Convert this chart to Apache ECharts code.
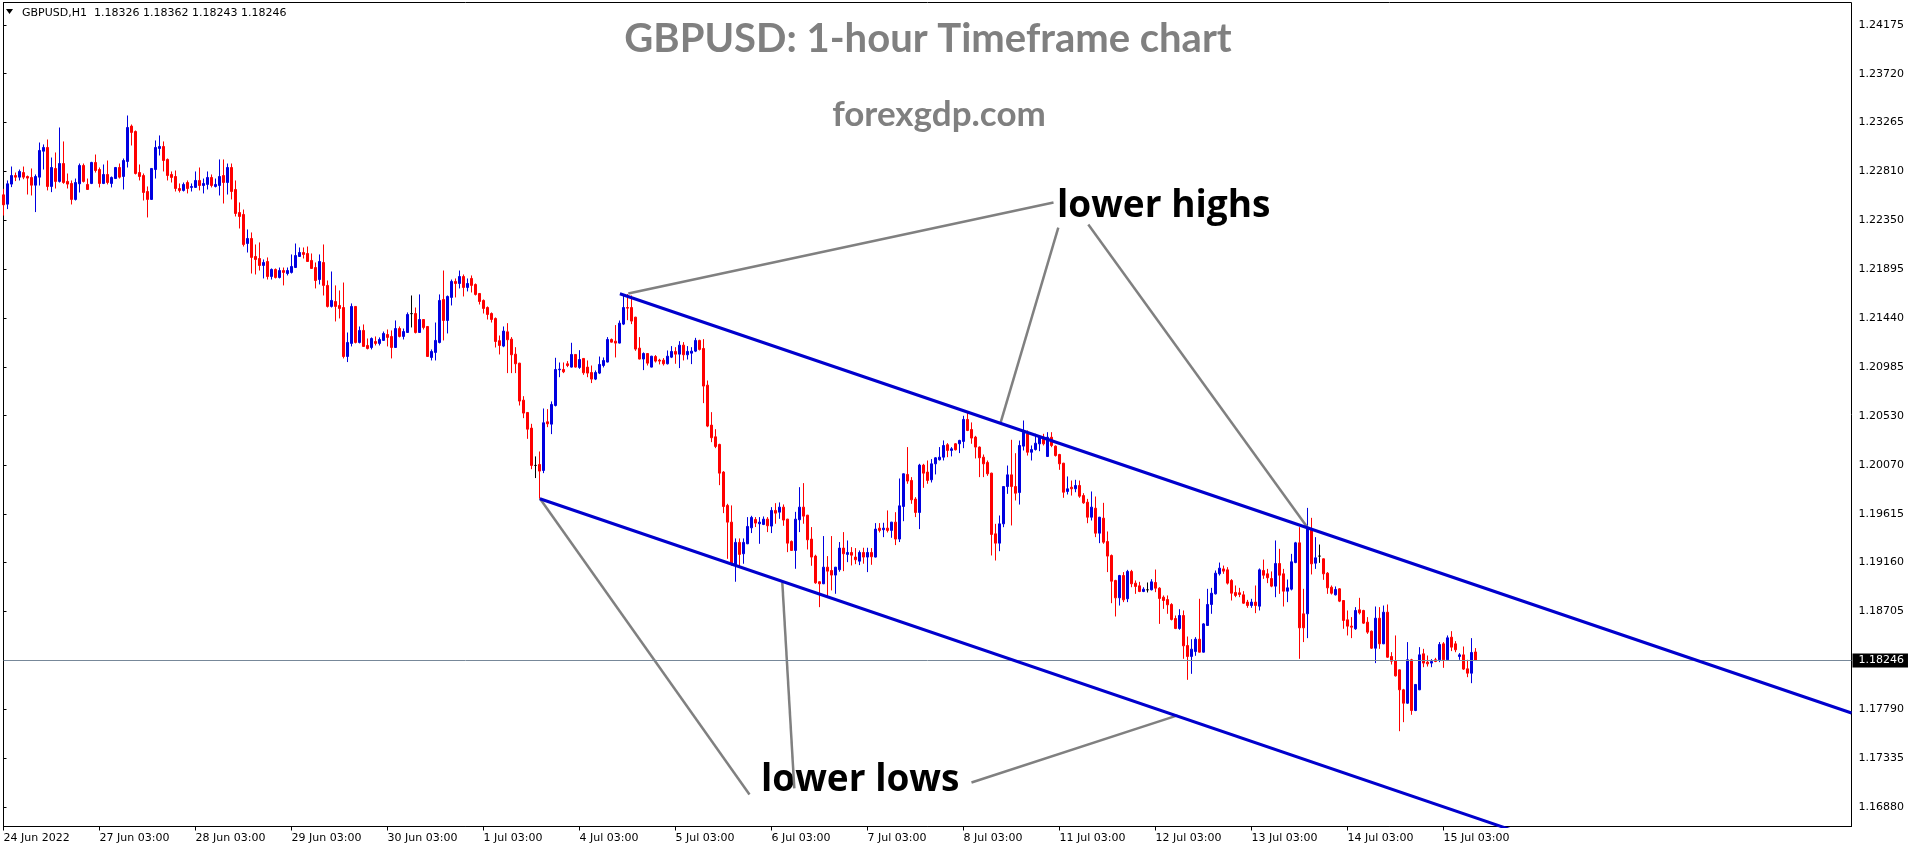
<!DOCTYPE html>
<html>
<head>
<meta charset="utf-8">
<title>GBPUSD H1</title>
<script src="https://cdn.jsdelivr.net/npm/echarts@6/dist/echarts.min.js"></script>
<style>
  html, body { margin: 0; padding: 0; background: #fff; }
  #chart { width: 1916px; height: 850px; }
</style>
</head>
<body>
<div id="chart"></div>
<script>
// day labels, one every 24 hourly bars
const dayLabels = ['24 Jun 2022', '27 Jun 03:00', '28 Jun 03:00', '29 Jun 03:00', '30 Jun 03:00',
  '1 Jul 03:00', '4 Jul 03:00', '5 Jul 03:00', '6 Jul 03:00', '7 Jul 03:00', '8 Jul 03:00',
  '11 Jul 03:00', '12 Jul 03:00', '13 Jul 03:00', '14 Jul 03:00', '15 Jul 03:00'];

// price axis labels as printed by the terminal
const priceTicks = [1.24175, 1.23720, 1.23265, 1.22810, 1.22350, 1.21895, 1.21440, 1.20985,
  1.20530, 1.20070, 1.19615, 1.19160, 1.18705, 1.17790, 1.17335, 1.16880];

const lastPrice = 1.18246;
const headerText = 'GBPUSD,H1  1.18326 1.18362 1.18243 1.18246';

// hourly OHLC
const open = [
  1.22590, 1.22503, 1.22690, 1.22770, 1.22755, 1.22798, 1.22761, 1.22752, 1.22680, 1.22755,
  1.22997, 1.23032, 1.22668, 1.22836, 1.22715, 1.22882, 1.22715, 1.22696, 1.22547, 1.22693,
  1.22864, 1.22687, 1.22696, 1.22892, 1.22826, 1.22696, 1.22780, 1.22696, 1.22742, 1.22845,
  1.22761, 1.22901, 1.23231, 1.23181, 1.22798, 1.22770, 1.22621, 1.22547, 1.22826, 1.23022,
  1.23041, 1.22920, 1.22780, 1.22761, 1.22649, 1.22631, 1.22705, 1.22659, 1.22659, 1.22724,
  1.22677, 1.22687, 1.22752, 1.22668, 1.22677, 1.22770, 1.22705, 1.22845, 1.22640, 1.22425,
  1.22407, 1.22136, 1.22183, 1.22015, 1.21996, 1.21931, 1.21968, 1.21828, 1.21894, 1.21819,
  1.21884, 1.21856, 1.21866, 1.21912, 1.22015, 1.22052, 1.22043, 1.21978, 1.21912, 1.21800,
  1.21959, 1.21745, 1.21549, 1.21595, 1.21558, 1.21539, 1.21082, 1.21204, 1.21549, 1.21213,
  1.21325, 1.21185, 1.21166, 1.21222, 1.21204, 1.21232, 1.21287, 1.21269, 1.21166, 1.21343,
  1.21269, 1.21306, 1.21482, 1.21483, 1.21306, 1.21427, 1.21362, 1.21073, 1.21120, 1.21213,
  1.21614, 1.21418, 1.21633, 1.21782, 1.21763, 1.21828, 1.21726, 1.21810, 1.21754, 1.21670,
  1.21605, 1.21539, 1.21483, 1.21437, 1.21230, 1.21179, 1.21312, 1.21244, 1.21104, 1.21020,
  1.20675, 1.20560, 1.20414, 1.20066, 1.20075, 1.20019, 1.20473, 1.20451, 1.20625, 1.20958,
  1.20961, 1.21014, 1.20983, 1.21101, 1.20980, 1.21064, 1.20983, 1.20933, 1.20871, 1.20927,
  1.20998, 1.21030, 1.21241, 1.21225, 1.21207, 1.21384, 1.21539, 1.21539, 1.21449, 1.21160,
  1.21058, 1.21110, 1.20983, 1.21082, 1.21048, 1.21048, 1.21014, 1.21076, 1.21129, 1.21104,
  1.21188, 1.21098, 1.21113, 1.21132, 1.21232, 1.21157, 1.20815, 1.20442, 1.20333, 1.20262,
  1.20004, 1.19693, 1.19537, 1.19139, 1.19348, 1.19242, 1.19335, 1.19484, 1.19562, 1.19522,
  1.19515, 1.19565, 1.19500, 1.19646, 1.19630, 1.19677, 1.19565, 1.19357, 1.19273, 1.19559,
  1.19677, 1.19602, 1.19379, 1.19220, 1.18981, 1.18962, 1.19117, 1.19086, 1.19043, 1.19093,
  1.19295, 1.19236, 1.19254, 1.19211, 1.19173, 1.19254, 1.19211, 1.19254, 1.19211, 1.19481,
  1.19466, 1.19481, 1.19460, 1.19537, 1.19379, 1.19683, 1.19982, 1.19926, 1.19752, 1.19627,
  1.20069, 1.20004, 1.19932, 1.20081, 1.20119, 1.20143, 1.20259, 1.20206, 1.20268, 1.20268,
  1.20290, 1.20495, 1.20401, 1.20330, 1.20237, 1.20143, 1.20094, 1.19994, 1.19428, 1.19341,
  1.19521, 1.19869, 1.19978, 1.19869, 1.19813, 1.20246, 1.20361, 1.20189, 1.20214, 1.20267,
  1.20329, 1.20149, 1.20329, 1.20246, 1.20168, 1.20087, 1.19823, 1.19863, 1.19848, 1.19879,
  1.19785, 1.19723, 1.19583, 1.19667, 1.19434, 1.19574, 1.19356, 1.19226, 1.18993, 1.18831,
  1.19039, 1.18822, 1.19077, 1.18968, 1.18943, 1.18890, 1.18906, 1.18906, 1.18974, 1.18921,
  1.18837, 1.18815, 1.18769, 1.18638, 1.18545, 1.18666, 1.18386, 1.18284, 1.18330, 1.18445,
  1.18324, 1.18573, 1.18769, 1.18868, 1.19055, 1.19101, 1.19092, 1.18993, 1.18881, 1.18878,
  1.18859, 1.18791, 1.18759, 1.18791, 1.18753, 1.19086, 1.19055, 1.19011, 1.18940, 1.19151,
  1.19055, 1.18893, 1.18912, 1.19160, 1.19344, 1.18682, 1.18682, 1.19475, 1.19154, 1.19220,
  1.19195, 1.19061, 1.18930, 1.18859, 1.18915, 1.18806, 1.18626, 1.18567, 1.18542, 1.18719,
  1.18713, 1.18604, 1.18520, 1.18361, 1.18641, 1.18402, 1.18697, 1.18284, 1.18246, 1.18159,
  1.17973, 1.17848, 1.18253, 1.17780, 1.17973, 1.18309, 1.18231, 1.18222, 1.18253, 1.18253,
  1.18402, 1.18253, 1.18464, 1.18402, 1.18284, 1.18299, 1.18169, 1.18128, 1.18326
];
const high = [
  1.22646, 1.22724, 1.22854, 1.22798, 1.22826, 1.22854, 1.22770, 1.22836, 1.22780, 1.23078,
  1.23060, 1.23106, 1.22938, 1.22985, 1.23218, 1.23088, 1.22789, 1.22724, 1.22742, 1.22882,
  1.22882, 1.22742, 1.22898, 1.22966, 1.22845, 1.22873, 1.22910, 1.22761, 1.22850, 1.22882,
  1.22929, 1.23330, 1.23246, 1.23190, 1.22873, 1.22789, 1.22668, 1.22840, 1.23097, 1.23144,
  1.23088, 1.22929, 1.22808, 1.22817, 1.22696, 1.22705, 1.22724, 1.22696, 1.22808, 1.22845,
  1.22742, 1.22808, 1.22780, 1.22742, 1.22920, 1.22920, 1.22882, 1.22882, 1.22724, 1.22519,
  1.22453, 1.22267, 1.22239, 1.22127, 1.22146, 1.21987, 1.22006, 1.21903, 1.21903, 1.21912,
  1.21912, 1.21912, 1.22034, 1.22136, 1.22099, 1.22099, 1.22108, 1.22043, 1.21959, 1.22034,
  1.22127, 1.21791, 1.21875, 1.21745, 1.21698, 1.21772, 1.21306, 1.21577, 1.21553, 1.21362,
  1.21381, 1.21250, 1.21260, 1.21269, 1.21260, 1.21315, 1.21334, 1.21325, 1.21418, 1.21362,
  1.21343, 1.21493, 1.21651, 1.21539, 1.21661, 1.21431, 1.21366, 1.21148, 1.21399, 1.21661,
  1.21884, 1.21651, 1.21800, 1.21810, 1.21884, 1.21847, 1.21810, 1.21838, 1.21763, 1.21674,
  1.21614, 1.21549, 1.21493, 1.21446, 1.21278, 1.21362, 1.21393, 1.21263, 1.21169, 1.21023,
  1.20712, 1.20563, 1.20454, 1.20150, 1.20196, 1.20597, 1.20591, 1.20663, 1.21070, 1.21026,
  1.21026, 1.21039, 1.21210, 1.21104, 1.21141, 1.21067, 1.21045, 1.20998, 1.20952, 1.21082,
  1.21073, 1.21263, 1.21250, 1.21375, 1.21418, 1.21664, 1.21664, 1.21651, 1.21452, 1.21263,
  1.21120, 1.21113, 1.21088, 1.21095, 1.21061, 1.21067, 1.21138, 1.21179, 1.21169, 1.21225,
  1.21216, 1.21179, 1.21169, 1.21256, 1.21238, 1.21244, 1.20858, 1.20563, 1.20404, 1.20268,
  1.20013, 1.19708, 1.19693, 1.19385, 1.19385, 1.19385, 1.19584, 1.19596, 1.19584, 1.19584,
  1.19590, 1.19584, 1.19677, 1.19714, 1.19721, 1.19702, 1.19568, 1.19366, 1.19633, 1.19863,
  1.19901, 1.19605, 1.19491, 1.19233, 1.18984, 1.19407, 1.19220, 1.19407, 1.19119, 1.19351,
  1.19444, 1.19366, 1.19304, 1.19295, 1.19273, 1.19298, 1.19298, 1.19295, 1.19528, 1.19528,
  1.19531, 1.19646, 1.19540, 1.19630, 1.19944, 1.19991, 1.20237, 1.19957, 1.19770, 1.20081,
  1.20081, 1.20112, 1.20125, 1.20143, 1.20237, 1.20299, 1.20274, 1.20237, 1.20274, 1.20305,
  1.20529, 1.20557, 1.20467, 1.20342, 1.20243, 1.20168, 1.20112, 1.19998, 1.19521, 1.19599,
  1.19872, 1.20065, 1.20305, 1.20180, 1.20298, 1.20485, 1.20392, 1.20252, 1.20361, 1.20345,
  1.20361, 1.20376, 1.20376, 1.20252, 1.20174, 1.20090, 1.19963, 1.19925, 1.19932, 1.19925,
  1.19807, 1.19754, 1.19823, 1.19776, 1.19586, 1.19717, 1.19450, 1.19235, 1.18999, 1.19045,
  1.19071, 1.19092, 1.19092, 1.18993, 1.18980, 1.18930, 1.18974, 1.19005, 1.19095, 1.18930,
  1.18853, 1.18853, 1.18781, 1.18666, 1.18725, 1.18713, 1.18470, 1.18445, 1.18464, 1.18822,
  1.18595, 1.18915, 1.18924, 1.19086, 1.19160, 1.19132, 1.19117, 1.19005, 1.18946, 1.18924,
  1.18893, 1.18812, 1.18822, 1.18946, 1.19105, 1.19188, 1.19101, 1.19077, 1.19366, 1.19288,
  1.19101, 1.19002, 1.19241, 1.19353, 1.19490, 1.18915, 1.19670, 1.19577, 1.19397, 1.19328,
  1.19198, 1.19071, 1.18946, 1.18937, 1.18921, 1.18809, 1.18713, 1.18651, 1.18744, 1.18831,
  1.18719, 1.18651, 1.18526, 1.18750, 1.18744, 1.18759, 1.18769, 1.18324, 1.18480, 1.18162,
  1.17982, 1.18418, 1.18262, 1.18026, 1.18371, 1.18355, 1.18293, 1.18259, 1.18271, 1.18418,
  1.18418, 1.18480, 1.18520, 1.18427, 1.18315, 1.18377, 1.18253, 1.18455, 1.18362
];
const low = [
  1.22397, 1.22457, 1.22662, 1.22718, 1.22724, 1.22736, 1.22593, 1.22584, 1.22429, 1.22677,
  1.22826, 1.22631, 1.22615, 1.22649, 1.22705, 1.22693, 1.22649, 1.22500, 1.22537, 1.22612,
  1.22705, 1.22635, 1.22690, 1.22798, 1.22659, 1.22690, 1.22687, 1.22659, 1.22738, 1.22742,
  1.22640, 1.22845, 1.23050, 1.22780, 1.22724, 1.22537, 1.22379, 1.22542, 1.22742, 1.22957,
  1.22808, 1.22724, 1.22705, 1.22621, 1.22612, 1.22621, 1.22603, 1.22621, 1.22655, 1.22631,
  1.22603, 1.22640, 1.22659, 1.22659, 1.22584, 1.22509, 1.22593, 1.22547, 1.22388, 1.22276,
  1.22108, 1.22052, 1.21856, 1.21847, 1.21884, 1.21810, 1.21800, 1.21800, 1.21810, 1.21810,
  1.21745, 1.21838, 1.21856, 1.21908, 1.22010, 1.21996, 1.21965, 1.21900, 1.21717, 1.21754,
  1.21651, 1.21539, 1.21539, 1.21409, 1.21437, 1.21064, 1.21030, 1.21176, 1.21204, 1.21204,
  1.21172, 1.21148, 1.21148, 1.21185, 1.21185, 1.21228, 1.21176, 1.21064, 1.21162, 1.21260,
  1.21241, 1.21302, 1.21353, 1.21297, 1.21302, 1.21334, 1.21078, 1.21045, 1.21045, 1.21204,
  1.21232, 1.21297, 1.21558, 1.21633, 1.21717, 1.21642, 1.21689, 1.21679, 1.21651, 1.21567,
  1.21483, 1.21427, 1.21399, 1.21166, 1.21101, 1.21169, 1.20927, 1.20927, 1.20927, 1.20625,
  1.20507, 1.20314, 1.20031, 1.19948, 1.19755, 1.19994, 1.20423, 1.20358, 1.20616, 1.20889,
  1.20927, 1.20983, 1.20979, 1.20979, 1.20967, 1.20911, 1.20889, 1.20834, 1.20862, 1.20918,
  1.20980, 1.21027, 1.21213, 1.21073, 1.21204, 1.21375, 1.21421, 1.21384, 1.21135, 1.21055,
  1.20955, 1.20998, 1.20980, 1.21026, 1.21008, 1.20998, 1.21008, 1.21067, 1.21014, 1.20974,
  1.21045, 1.21054, 1.21011, 1.21123, 1.21138, 1.20647, 1.20423, 1.20283, 1.20227, 1.19882,
  1.19621, 1.19195, 1.19130, 1.18981, 1.19111, 1.19149, 1.19332, 1.19435, 1.19491, 1.19335,
  1.19509, 1.19444, 1.19435, 1.19522, 1.19568, 1.19503, 1.19257, 1.19270, 1.19102, 1.19444,
  1.19522, 1.19282, 1.19130, 1.18962, 1.18744, 1.18959, 1.18837, 1.18900, 1.18869, 1.19074,
  1.19080, 1.19164, 1.19133, 1.19145, 1.19136, 1.19149, 1.19071, 1.19139, 1.19208, 1.19441,
  1.19397, 1.19441, 1.19391, 1.19323, 1.19351, 1.19546, 1.19895, 1.19708, 1.19584, 1.19472,
  1.19857, 1.19895, 1.19907, 1.19982, 1.20112, 1.20112, 1.20143, 1.20150, 1.20206, 1.20181,
  1.20227, 1.20386, 1.20268, 1.20131, 1.19957, 1.19957, 1.19969, 1.19226, 1.19179, 1.19266,
  1.19490, 1.19801, 1.19506, 1.19739, 1.19701, 1.20205, 1.20158, 1.20112, 1.20205, 1.20199,
  1.20252, 1.20146, 1.20236, 1.20149, 1.20025, 1.19764, 1.19795, 1.19785, 1.19816, 1.19764,
  1.19708, 1.19527, 1.19552, 1.19397, 1.19341, 1.19335, 1.19071, 1.18781, 1.18657, 1.18759,
  1.18791, 1.18791, 1.18930, 1.18868, 1.18884, 1.18884, 1.18881, 1.18900, 1.18884, 1.18588,
  1.18728, 1.18682, 1.18620, 1.18539, 1.18533, 1.18262, 1.18066, 1.18122, 1.18290, 1.18321,
  1.18321, 1.18570, 1.18682, 1.18862, 1.19039, 1.19055, 1.18955, 1.18806, 1.18837, 1.18837,
  1.18775, 1.18738, 1.18738, 1.18688, 1.18713, 1.19008, 1.18968, 1.18930, 1.18837, 1.18868,
  1.18750, 1.18791, 1.18900, 1.19154, 1.18262, 1.18418, 1.18455, 1.19049, 1.19101, 1.19157,
  1.18999, 1.18868, 1.18862, 1.18853, 1.18791, 1.18542, 1.18480, 1.18455, 1.18533, 1.18676,
  1.18588, 1.18495, 1.18355, 1.18222, 1.18355, 1.18399, 1.18271, 1.18209, 1.18097, 1.17587,
  1.17671, 1.17842, 1.17740, 1.17774, 1.17970, 1.18184, 1.18190, 1.18184, 1.18231, 1.18231,
  1.18178, 1.18250, 1.18334, 1.18324, 1.18253, 1.18159, 1.18091, 1.18035, 1.18243
];
const close = [
  1.22497, 1.22693, 1.22770, 1.22755, 1.22808, 1.22755, 1.22746, 1.22680, 1.22761, 1.23004,
  1.23032, 1.22668, 1.22845, 1.22715, 1.22882, 1.22705, 1.22690, 1.22547, 1.22705, 1.22864,
  1.22715, 1.22640, 1.22892, 1.22817, 1.22696, 1.22780, 1.22705, 1.22752, 1.22845, 1.22755,
  1.22910, 1.23218, 1.23172, 1.22789, 1.22761, 1.22612, 1.22547, 1.22836, 1.23032, 1.23041,
  1.22910, 1.22770, 1.22752, 1.22649, 1.22631, 1.22687, 1.22649, 1.22668, 1.22724, 1.22677,
  1.22696, 1.22752, 1.22677, 1.22687, 1.22761, 1.22705, 1.22845, 1.22621, 1.22416, 1.22388,
  1.22127, 1.22183, 1.22006, 1.21987, 1.21931, 1.21959, 1.21828, 1.21894, 1.21819, 1.21884,
  1.21866, 1.21884, 1.21922, 1.22024, 1.22052, 1.22034, 1.21968, 1.21903, 1.21791, 1.21968,
  1.21745, 1.21549, 1.21605, 1.21549, 1.21530, 1.21082, 1.21213, 1.21549, 1.21213, 1.21325,
  1.21176, 1.21157, 1.21250, 1.21204, 1.21241, 1.21297, 1.21260, 1.21166, 1.21343, 1.21269,
  1.21315, 1.21474, 1.21482, 1.21306, 1.21427, 1.21353, 1.21082, 1.21129, 1.21232, 1.21605,
  1.21418, 1.21642, 1.21782, 1.21763, 1.21828, 1.21726, 1.21763, 1.21745, 1.21661, 1.21595,
  1.21530, 1.21474, 1.21427, 1.21222, 1.21185, 1.21319, 1.21238, 1.21098, 1.21014, 1.20666,
  1.20554, 1.20404, 1.20066, 1.20066, 1.20013, 1.20464, 1.20454, 1.20635, 1.20961, 1.20964,
  1.20939, 1.20998, 1.21101, 1.20983, 1.21054, 1.20930, 1.20927, 1.20871, 1.20933, 1.21008,
  1.21045, 1.21241, 1.21216, 1.21207, 1.21393, 1.21539, 1.21533, 1.21412, 1.21151, 1.21058,
  1.21110, 1.21020, 1.21085, 1.21039, 1.21039, 1.21014, 1.21085, 1.21129, 1.21104, 1.21188,
  1.21098, 1.21129, 1.21132, 1.21232, 1.21148, 1.20806, 1.20433, 1.20324, 1.20243, 1.19994,
  1.19683, 1.19537, 1.19149, 1.19348, 1.19236, 1.19348, 1.19497, 1.19581, 1.19528, 1.19537,
  1.19565, 1.19503, 1.19646, 1.19621, 1.19677, 1.19556, 1.19341, 1.19273, 1.19565, 1.19677,
  1.19593, 1.19372, 1.19211, 1.18971, 1.18962, 1.19117, 1.19080, 1.19043, 1.19117, 1.19295,
  1.19242, 1.19254, 1.19229, 1.19186, 1.19254, 1.19211, 1.19254, 1.19214, 1.19472, 1.19460,
  1.19481, 1.19460, 1.19537, 1.19379, 1.19689, 1.19988, 1.19920, 1.19745, 1.19627, 1.20069,
  1.19994, 1.19926, 1.20081, 1.20137, 1.20143, 1.20252, 1.20206, 1.20221, 1.20212, 1.20299,
  1.20495, 1.20392, 1.20321, 1.20237, 1.20137, 1.20081, 1.19988, 1.19422, 1.19341, 1.19521,
  1.19869, 1.19978, 1.19869, 1.19807, 1.20252, 1.20376, 1.20189, 1.20214, 1.20273, 1.20329,
  1.20267, 1.20329, 1.20252, 1.20158, 1.20081, 1.19816, 1.19848, 1.19848, 1.19879, 1.19779,
  1.19717, 1.19583, 1.19677, 1.19434, 1.19583, 1.19350, 1.19220, 1.18986, 1.18831, 1.19039,
  1.18812, 1.19077, 1.18962, 1.18937, 1.18890, 1.18912, 1.18906, 1.18980, 1.18921, 1.18825,
  1.18806, 1.18766, 1.18629, 1.18545, 1.18666, 1.18383, 1.18284, 1.18352, 1.18445, 1.18324,
  1.18588, 1.18769, 1.18874, 1.19061, 1.19108, 1.19080, 1.18968, 1.18874, 1.18853, 1.18862,
  1.18781, 1.18759, 1.18791, 1.18759, 1.19092, 1.19042, 1.19018, 1.18940, 1.19151, 1.19042,
  1.18893, 1.18924, 1.19167, 1.19344, 1.18551, 1.18551, 1.19475, 1.19148, 1.19204, 1.19220,
  1.19055, 1.18924, 1.18874, 1.18909, 1.18800, 1.18620, 1.18567, 1.18557, 1.18713, 1.18691,
  1.18595, 1.18511, 1.18361, 1.18641, 1.18402, 1.18697, 1.18277, 1.18240, 1.18103, 1.17973,
  1.17848, 1.18253, 1.17780, 1.18023, 1.18299, 1.18222, 1.18215, 1.18237, 1.18237, 1.18396,
  1.18253, 1.18458, 1.18371, 1.18346, 1.18299, 1.18166, 1.18128, 1.18321, 1.18246
];

// hand-drawn channel (bar index, price)
const upperChannel = [[154.1, 1.21667], [462, 1.17757]];
const lowerChannel = [[134.1, 1.19755], [462, 1.15584]];
// pointer lines from the annotation words to the swing points (bar index, price)
const highPointers = [
  [[262.5, 1.22519], [156.2, 1.21670]],
  [[263.7, 1.22285], [249.3, 1.20467]],
  [[271.2, 1.22313], [326.0, 1.19487]]
];
const lowPointers = [
  [[186.5, 1.16996], [134.1, 1.19757]],
  [[197.7, 1.17053], [194.7, 1.18974]],
  [[242.0, 1.17109], [293.5, 1.17734]]
];

const SLOTS = 463; // chart keeps empty space to the right of the last bar
const Y_MIN = 1.16698;
const Y_MAX = 1.24384;

const categories = Array.from({ length: SLOTS }, (_, i) => String(i));
const candles = open.map((o, i) => [o, close[i], low[i], high[i]]);
const isDayTick = (i) => i % 24 === 0 && i / 24 < dayLabels.length;

const chart = echarts.init(document.getElementById('chart'), null, { renderer: 'canvas' });

const lineSeries = (data, color, width, z) => ({
  type: 'line',
  xAxisIndex: 1,
  yAxisIndex: 0,
  data: data,
  symbol: 'none',
  silent: true,
  animation: false,
  z: z,
  lineStyle: { color: color, width: width }
});

const option = {
  animation: false,
  backgroundColor: '#ffffff',
  grid: {
    // half-pixel offsets keep the 1px frame and the candles crisp
    left: 3.5, right: 64.5, top: 2.5, bottom: 23.5,
    show: true, borderColor: '#000000', borderWidth: 1, backgroundColor: 'transparent'
  },
  xAxis: [
    {
      type: 'category',
      data: categories,
      boundaryGap: false,
      axisLine: { lineStyle: { color: '#000000', width: 1 } },
      axisTick: { interval: (i) => isDayTick(i), length: 4, lineStyle: { color: '#000000' } },
      axisLabel: {
        interval: (i) => isDayTick(i),
        formatter: (v, i) => dayLabels[i / 24] || '',
        align: 'left',
        margin: 6,
        color: '#000000',
        fontFamily: 'DejaVu Sans',
        fontSize: 11
      },
      splitLine: { show: false }
    },
    { type: 'value', min: 0, max: SLOTS - 1, show: false }
  ],
  yAxis: {
    type: 'value',
    position: 'right',
    min: Y_MIN,
    max: Y_MAX,
    axisLine: { show: true, lineStyle: { color: '#000000' } },
    axisTick: { show: true, length: 3, customValues: priceTicks, lineStyle: { color: '#000000' } },
    axisLabel: {
      customValues: priceTicks,
      formatter: (v) => v.toFixed(5),
      margin: 7,
      color: '#000000',
      fontFamily: 'DejaVu Sans',
      fontSize: 11
    },
    splitLine: { show: false }
  },
  series: [
    {
      type: 'candlestick',
      data: candles,
      barWidth: 2,
      silent: true,
      z: 3,
      itemStyle: {
        color: '#0000e0', color0: '#ff0000',
        borderColor: '#0000e0', borderColor0: '#ff0000',
        borderColorDoji: '#000000', borderWidth: 1
      },
      markLine: {
        silent: true,
        symbol: 'none',
        animation: false,
        precision: 5,
        lineStyle: { color: '#778899', width: 1, type: 'solid' },
        label: {
          show: true,
          position: 'end',
          distance: 1,
          formatter: () => lastPrice.toFixed(5),
          backgroundColor: '#000000',
          color: '#ffffff',
          padding: [2, 4, 1, 6],
          fontFamily: 'DejaVu Sans',
          fontSize: 11
        },
        data: [{ yAxis: lastPrice }]
      }
    },
    lineSeries(upperChannel, '#0000cd', 3, 5),
    lineSeries(lowerChannel, '#0000cd', 3, 5)
  ]
    .concat(highPointers.map((seg) => lineSeries(seg, '#808080', 2.5, 4)))
    .concat(lowPointers.map((seg) => lineSeries(seg, '#808080', 2.5, 4))),
  graphic: [
    { type: 'polygon', shape: { points: [[6, 9], [13, 9], [9.5, 14]] }, style: { fill: '#000000' }, silent: true },
    { type: 'text', x: 22, y: 13, style: { text: headerText, font: '11px "DejaVu Sans"', fill: '#000000', verticalAlign: 'middle' }, silent: true },
    { type: 'text', x: 928, y: 39, style: { text: 'GBPUSD: 1-hour Timeframe chart', font: 'bold 40px Lato', fill: '#808080', align: 'center', verticalAlign: 'middle' }, silent: true },
    { type: 'text', x: 939, y: 115, style: { text: 'forexgdp.com', font: 'bold 35px Lato', fill: '#808080', align: 'center', verticalAlign: 'middle' }, silent: true },
    { type: 'text', x: 1057, y: 206, style: { text: 'lower highs', font: 'bold 37px "Open Sans"', fill: '#000000', verticalAlign: 'middle' }, silent: true },
    { type: 'text', x: 761, y: 780, style: { text: 'lower lows', font: 'bold 37px "Open Sans"', fill: '#000000', verticalAlign: 'middle' }, silent: true }
  ]
};

chart.setOption(option);
</script>
</body>
</html>
